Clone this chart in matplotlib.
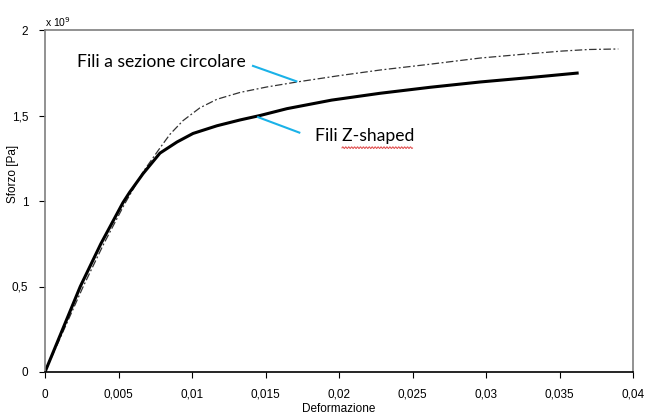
import numpy as np
import matplotlib.pyplot as plt
from matplotlib.ticker import FuncFormatter

# Curve sforzo-deformazione (sforzo in unità di 1e9 Pa)
strain_z = [0, 0.0012, 0.0024, 0.0038, 0.0053, 0.00575, 0.00667, 0.00782,
            0.00898, 0.01007, 0.0117, 0.01327, 0.01463, 0.01646, 0.0195,
            0.0228, 0.0262, 0.0296, 0.033, 0.0362]
stress_z = [0, 0.25, 0.50, 0.75, 0.99, 1.05, 1.16, 1.28,
            1.345, 1.395, 1.44, 1.474, 1.50, 1.54, 1.59,
            1.63, 1.665, 1.696, 1.722, 1.748]

strain_c = [0, 0.0013, 0.0026, 0.004, 0.0054, 0.00667, 0.00782, 0.0085,
            0.00939, 0.01054, 0.0117, 0.01327, 0.0151, 0.01714, 0.020,
            0.0228, 0.0262, 0.0296, 0.0325, 0.0352, 0.037, 0.039]
stress_c = [0, 0.25, 0.50, 0.75, 0.98, 1.17, 1.31, 1.39,
            1.47, 1.545, 1.595, 1.635, 1.667, 1.696, 1.733,
            1.766, 1.80, 1.836, 1.858, 1.877, 1.886, 1.889]

x_ticks = [0, 0.005, 0.01, 0.015, 0.02, 0.025, 0.03, 0.035, 0.04]
y_ticks = [0, 0.5, 1, 1.5, 2]

fig = plt.figure(figsize=(6.47, 4.16), dpi=100)
ax = fig.add_axes([45/647, 44/416, 588/647, 342/416])

ax.plot(strain_c, stress_c, color='#333333', lw=0.9, linestyle=(0, (6, 2, 1.5, 2)))
ax.plot(strain_z, stress_z, color='black', lw=2.2, solid_joinstyle='round')

ax.set_xlim(0, 0.04)
ax.set_ylim(0, 2)
ax.set_xticks(x_ticks)
ax.set_yticks(y_ticks)

def comma(v, pos):
    s = ('%.3f' % v).rstrip('0').rstrip('.')
    return s.replace('.', ',')

ax.xaxis.set_major_formatter(FuncFormatter(comma))
ax.yaxis.set_major_formatter(FuncFormatter(comma))
ax.tick_params(labelsize=8.5, length=4, direction='out', pad=8,
               labelfontfamily='Liberation Sans', colors='black')
for s in ['left', 'top', 'right']:
    ax.spines[s].set_color('#7f7f7f')
ax.spines['bottom'].set_color('black')
for sp in ax.spines.values():
    sp.set_linewidth(1.2)

ax.set_xlabel('Deformazione', fontsize=8.5, family='Liberation Sans', labelpad=2)
ax.set_ylabel('Sforzo [Pa]', fontsize=8.5, family='Liberation Sans', labelpad=4)
ax.yaxis.set_label_coords(-0.045, 0.58)
ax.text(0.0, 1.004, r'x 10$^9$', transform=ax.transAxes, fontsize=7.5,
        family='Liberation Sans', va='bottom', ha='left')

# Annotazioni
cyan = '#1ab2e8'
ax.text(0.00218, 1.81, 'Fili a sezione circolare', fontsize=12.6, family='Lato',
        va='center', ha='left')
ax.plot([0.01415, 0.0171], [1.79, 1.70], color=cyan, lw=1.5)
ax.text(0.0184, 1.38, 'Fili Z-shaped', fontsize=12.6, family='Lato',
        va='center', ha='left')
ax.plot([0.0145, 0.0173], [1.49, 1.40], color=cyan, lw=1.5)
# sottolineatura ondulata (correttore ortografico)
wx = np.linspace(0.0202, 0.0250, 150)
ax.plot(wx, 1.312 + 0.005 * np.sin(wx * 31400), color='#e04848', lw=0.7)

fig.savefig('out.png', dpi=100)
